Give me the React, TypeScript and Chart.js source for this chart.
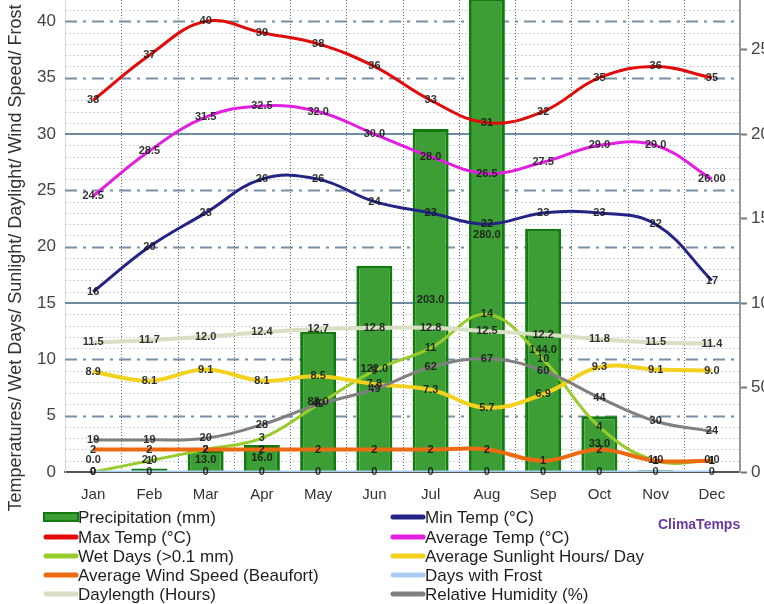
import React, { useEffect, useRef } from "react";
import { Chart, registerables } from "chart.js";
Chart.register(...registerables);

const months = ["Jan", "Feb", "Mar", "Apr", "May", "Jun", "Jul", "Aug", "Sep", "Oct", "Nov", "Dec"];
const precipitation = [0, 2, 13, 16, 83, 122, 203, 280, 144, 33, 1, 0];
const maxTemp = [33, 37, 40, 39, 38, 36, 33, 31, 32, 35, 36, 35];
const minTemp = [16, 20, 23, 26, 26, 24, 23, 22, 23, 23, 22, 17];
const avgTemp = [24.5, 28.5, 31.5, 32.5, 32.0, 30.0, 28.0, 26.5, 27.5, 29.0, 29.0, 26.0];
const avgTempText = ["24.5", "28.5", "31.5", "32.5", "32.0", "30.0", "28.0", "26.5", "27.5", "29.0", "29.0", "26.00"];
const wetDays = [0, 1, 2, 3, 6, 9, 11, 14, 10, 4, 1, 1];
const sunlight = [8.9, 8.1, 9.1, 8.1, 8.5, 7.8, 7.3, 5.7, 6.9, 9.3, 9.1, 9.0];
const windSpeed = [2, 2, 2, 2, 2, 2, 2, 2, 1, 2, 1, 1];
const frostDays = [0, 0, 0, 0, 0, 0, 0, 0, 0, 0, 0, 0];
const daylength = [11.5, 11.7, 12.0, 12.4, 12.7, 12.8, 12.8, 12.5, 12.2, 11.8, 11.5, 11.4];
const humidity = [19, 19, 20, 28, 40, 49, 62, 67, 60, 44, 30, 24];
const leftTicks = [0, 5, 10, 15, 20, 25, 30, 35, 40];
const rightTicks = [0, 50, 100, 150, 200, 250];

const LEFT_MAX = 41.9;
const RIGHT_MAX = (LEFT_MAX * 20) / 3;
const FONT = "'Liberation Sans', Arial, sans-serif";

export default function App() {
  const ref = useRef<HTMLCanvasElement | null>(null);

  useEffect(() => {
    if (!ref.current) return;

    const labelFmt: Array<(v: number, i: number) => string> = [];

    const lineDs = (label: string, data: number[], color: string, width: number, axis: string, fmt: (v: number, i: number) => string) => {
      labelFmt.push(fmt);
      return {
        type: "line" as const,
        label,
        data,
        borderColor: color,
        backgroundColor: color,
        borderWidth: width,
        pointRadius: 0,
        tension: 0.4,
        yAxisID: axis,
        order: 1,
        fill: false,
      };
    };

    const int = (v: number) => String(Math.round(v));
    const one = (v: number) => v.toFixed(1);

    const datasets: any[] = [];
    // 0 precipitation
    labelFmt.push(one);
    datasets.push({
      type: "bar",
      label: "Precipitation (mm)",
      data: precipitation,
      backgroundColor: "#3d9e36",
      borderColor: "#137a10",
      borderWidth: 3,
      barPercentage: 0.64,
      categoryPercentage: 1,
      yAxisID: "y1",
      order: 10,
    });
    datasets.push(lineDs("Daylength (Hours)", daylength, "#d9dfc2", 4, "y", one)); // 1
    datasets.push(lineDs("Days with Frost", frostDays, "#a9cdf0", 3, "y", int)); // 2
    datasets.push(lineDs("Relative Humidity (%)", humidity, "#808080", 3, "y1", int)); // 3
    datasets.push(lineDs("Average Wind Speed (Beaufort)", windSpeed, "#ec6a12", 4, "y", int)); // 4
    datasets.push(lineDs("Average Sunlight Hours/ Day", sunlight, "#f2d21c", 4, "y", one)); // 5
    datasets.push(lineDs("Wet Days (>0.1 mm)", wetDays, "#98cc2a", 3, "y", int)); // 6
    datasets.push(lineDs("Min Temp (°C)", minTemp, "#242486", 3, "y", int)); // 7
    datasets.push(lineDs("Average Temp (°C)", avgTemp, "#e21fe0", 3, "y", (_v, i) => avgTempText[i])); // 8
    datasets.push(lineDs("Max Temp (°C)", maxTemp, "#e20a0a", 3, "y", int)); // 9

    const legendLeft = [0, 9, 6, 4, 1];
    const legendRight = [7, 8, 5, 2, 3];

    const plugin = {
      id: "climate",
      beforeDatasetsDraw(chart: any) {
        const ctx = chart.ctx;
        const { left, right, top, bottom } = chart.chartArea;
        const y = chart.scales.y;
        const y1 = chart.scales.y1;
        const x = chart.scales.x;
        ctx.save();
        ctx.beginPath();
        ctx.rect(left, top, right - left, bottom - top);
        ctx.clip();
        for (let v = 1; v <= 41; v++) {
          const py = Math.round(y.getPixelForValue(v)) + 0.5;
          if (v % 15 === 0) continue;
          ctx.beginPath();
          if (v % 5 === 0) {
            ctx.strokeStyle = "rgba(95,125,150,0.85)";
            ctx.lineWidth = 2;
            ctx.setLineDash([12, 6, 3, 6]);
          } else {
            ctx.strokeStyle = "#c9d3dc";
            ctx.lineWidth = 1;
            ctx.setLineDash([2, 2]);
          }
          ctx.moveTo(left, py);
          ctx.lineTo(right, py);
          ctx.stroke();
        }
        ctx.setLineDash([]);
        ctx.strokeStyle = "#6f8aa3";
        ctx.lineWidth = 2;
        for (const v of [100, 200]) {
          const py = Math.round(y1.getPixelForValue(v));
          ctx.beginPath();
          ctx.moveTo(left, py);
          ctx.lineTo(right, py);
          ctx.stroke();
        }
        ctx.strokeStyle = "#6a6a6a";
        ctx.lineWidth = 1;
        ctx.setLineDash([1, 2]);
        for (let i = 0; i < months.length - 1; i++) {
          const px = Math.round((x.getPixelForValue(i) + x.getPixelForValue(i + 1)) / 2) + 0.5;
          ctx.beginPath();
          ctx.moveTo(px, top);
          ctx.lineTo(px, bottom);
          ctx.stroke();
        }
        ctx.restore();
      },
      afterDatasetsDraw(chart: any) {
        const ctx = chart.ctx;
        ctx.save();
        ctx.font = `bold 11px ${FONT}`;
        ctx.fillStyle = "rgba(25,25,25,0.9)";
        ctx.textAlign = "center";
        ctx.textBaseline = "middle";
        for (let di = 0; di < chart.data.datasets.length; di++) {
          const meta = chart.getDatasetMeta(di);
          const data = chart.data.datasets[di].data as number[];
          meta.data.forEach((el: any, i: number) => {
            let py = el.y;
            if (di === 0) {
              py = Math.min((el.y + el.base) / 2, el.base - 12);
            }
            ctx.fillText(labelFmt[di](data[i], i), el.x, py);
          });
        }
        ctx.restore();
      },
      afterDraw(chart: any) {
        const ctx = chart.ctx;
        ctx.save();
        ctx.translate(16, 258);
        ctx.rotate(-Math.PI / 2);
        ctx.font = `18px ${FONT}`;
        ctx.fillStyle = "#333";
        ctx.textAlign = "center";
        ctx.textBaseline = "middle";
        ctx.fillText("Temperatures/ Wet Days/ Sunlight/ Daylight/ Wind Speed/ Frost", 0, 0);
        ctx.restore();

        ctx.save();
        ctx.font = `17px ${FONT}`;
        ctx.textBaseline = "middle";
        ctx.textAlign = "left";
        const rows = [517, 537, 556, 575, 594];
        const drawItem = (di: number, x0: number, yy: number) => {
          const ds = chart.data.datasets[di];
          if (di === 0) {
            ctx.fillStyle = ds.backgroundColor;
            ctx.strokeStyle = ds.borderColor;
            ctx.lineWidth = 2;
            ctx.fillRect(x0 + 1, yy - 4, 34, 8);
            ctx.strokeRect(x0 + 1, yy - 4, 34, 8);
          } else {
            ctx.strokeStyle = ds.borderColor;
            ctx.lineWidth = 5;
            ctx.lineCap = "round";
            ctx.beginPath();
            ctx.moveTo(x0 + 3, yy);
            ctx.lineTo(x0 + 33, yy);
            ctx.stroke();
          }
          ctx.fillStyle = "#1e1e1e";
          ctx.fillText(ds.label, x0 + 35, yy + 1);
        };
        legendLeft.forEach((di, r) => drawItem(di, 43, rows[r]));
        legendRight.forEach((di, r) => drawItem(di, 390, rows[r]));
        ctx.font = `bold 14px ${FONT}`;
        ctx.fillStyle = "#6a3a9e";
        ctx.fillText("ClimaTemps", 658, 525);
        ctx.restore();
      },
    };

    const noPad = (s: any) => {
      s.paddingTop = 0;
      s.paddingBottom = 0;
    };

    const chart = new Chart(ref.current, {
      type: "bar",
      data: { labels: months, datasets },
      options: {
        responsive: false,
        animation: false,
        devicePixelRatio: 1,
        layout: { padding: 0 },
        plugins: { legend: { display: false }, tooltip: { enabled: false }, title: { display: false } },
        scales: {
          x: {
            offset: true,
            grid: { display: false, drawTicks: false },
            border: { display: true, color: "#555", width: 2 },
            ticks: { font: { size: 15, family: FONT }, color: "#333", padding: 14, maxRotation: 0, autoSkip: false },
            afterFit: (s: any) => { s.height = 132; s.paddingLeft = 0; s.paddingRight = 0; },
          },
          y: {
            position: "left",
            min: 0,
            max: LEFT_MAX,
            afterBuildTicks: (s: any) => { s.ticks = leftTicks.map((v) => ({ value: v })); },
            grid: { display: false, drawTicks: false },
            border: { display: true, color: "#cfe0cf", width: 1 },
            ticks: { font: { size: 17, family: FONT }, color: "#444", padding: 9 },
            afterFit: (s: any) => { s.width = 65; noPad(s); },
          },
          y1: {
            position: "right",
            min: 0,
            max: RIGHT_MAX,
            afterBuildTicks: (s: any) => { s.ticks = rightTicks.map((v) => ({ value: v })); },
            grid: { display: true, drawOnChartArea: false, drawTicks: true, tickLength: 7, tickColor: "#777", tickWidth: 2 },
            border: { display: true, color: "#999", width: 2 },
            ticks: { font: { size: 17, family: FONT }, color: "#444", padding: 4 },
            afterFit: (s: any) => { s.width = 24; noPad(s); },
          },
        },
      },
      plugins: [plugin],
    } as any);

    return () => chart.destroy();
  }, []);

  return (
    <div style={{ position: "absolute", left: 0, top: 0, width: 764, height: 604, background: "#fff" }}>
      <canvas ref={ref} width={764} height={604} style={{ display: "block", width: 764, height: 604 }} />
    </div>
  );
}
